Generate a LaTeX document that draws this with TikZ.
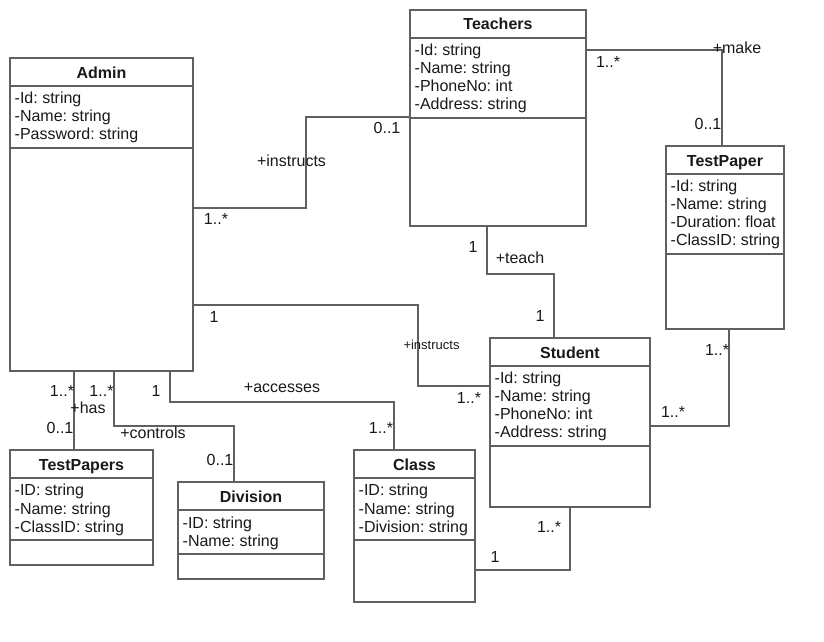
\documentclass[tikz,border=0pt]{standalone}
\usepackage{fontspec}
\setmainfont{Liberation Sans}
\frenchspacing
\definecolor{lc}{RGB}{96,96,96}
\definecolor{tc}{RGB}{25,25,25}
\tikzset{
  ln/.style={draw=lc, line width=1.3pt},
  classbox/.style={draw=lc, line width=1.3pt, rectangle, anchor=north west, inner sep=0pt, outer sep=0pt, fill=white},
  titletext/.style={anchor=base, inner sep=0pt, text=tc, font=\fontsize{16}{18}\selectfont\bfseries},
  attrtext/.style={anchor=north west, inner sep=0pt, align=left, text=tc, font=\fontsize{16}{18}\selectfont},
  lbl/.style={anchor=base, inner sep=0pt, text=tc, font=\fontsize{16}{18}\selectfont},
  slbl/.style={anchor=base, inner sep=0pt, text=tc, font=\fontsize{13}{15}\selectfont}
}
\newcommand\umlbox[8]{%
  \node[classbox, minimum width=#4, minimum height=#5] (#1) at (#2,#3) {};
  \draw[ln] ([yshift=-28pt]#1.north west) -- ([yshift=-28pt]#1.north east);
  \draw[ln] ([yshift=-#8]#1.north west) -- ([yshift=-#8]#1.north east);
  \node[titletext] (#1-t) at ([yshift=-20pt]#1.north) {#6};
  \node[attrtext] (#1-a) at ([xshift=4.5pt,yshift=-34.2pt]#1.north west) {#7};
}
\begin{document}
\begin{tikzpicture}[x=1pt,y=-1pt]
\useasboundingbox[fill=white] (0,0) rectangle (824,642);
\umlbox{Admin}{10}{58}{183pt}{313pt}{Admin}{-Id: string\\-Name: string\\-Password: string}{90pt}
\umlbox{Teachers}{410}{10}{176pt}{216pt}{Teachers}{-Id: string\\-Name: string\\-PhoneNo: int\\-Address: string}{108pt}
\umlbox{TestPaper}{666}{146}{118pt}{183pt}{TestPaper}{-Id: string\\-Name: string\\-Duration: float\\-ClassID: string}{108pt}
\umlbox{Student}{490}{338}{160pt}{169pt}{Student}{-Id: string\\-Name: string\\-PhoneNo: int\\-Address: string}{108pt}
\umlbox{Class}{354}{450}{121pt}{152pt}{Class}{-ID: string\\-Name: string\\-Division: string}{90pt}
\umlbox{TestPapers}{10}{450}{143pt}{115pt}{TestPapers}{-ID: string\\-Name: string\\-ClassID: string}{90pt}
\umlbox{Division}{178}{482}{146pt}{97pt}{Division}{-ID: string\\-Name: string}{72pt}

\draw[ln] (Admin.east |- 0,208) -| (306,117) -- (Teachers.west |- 0,117);
\draw[ln] (Teachers.east |- 0,50) -| (TestPaper.north -| 722,0);
\draw[ln] (Teachers.south -| 487,0) |- (554,274) -- (Student.north -| 554,0);
\draw[ln] (Admin.east |- 0,305) -| (418,386) -- (Student.west |- 0,386);
\draw[ln] (TestPaper.south -| 729,0) |- (Student.east |- 0,426);
\draw[ln] (Student.south -| 570,0) |- (Class.east |- 0,570);
\draw[ln] (Admin.south -| 74,0) -- (TestPapers.north -| 74,0);
\draw[ln] (Admin.south -| 114,0) |- (234,426) -- (Division.north -| 234,0);
\draw[ln] (Admin.south -| 170,0) |- (394,402) -- (Class.north -| 394,0);

% labels
\node[lbl] (l1) at (291.5,166) {+instructs};
\node[lbl] (l2) at (216,224) {1..*};
\node[lbl] (l3) at (387,133) {0..1};
\node[lbl] (l4) at (608,67) {1..*};
\node[lbl] (l5) at (737,54) {+make};
\node[lbl] (l6) at (708,129) {0..1};
\node[lbl] (l7) at (473,252) {1};
\node[lbl] (l8) at (520,263) {+teach};
\node[lbl] (l9) at (540,321) {1};
\node[slbl] (l10) at (431.5,349) {+instructs};
\node[lbl] (l11) at (469,403) {1..*};
\node[lbl] (l12) at (717,355) {1..*};
\node[lbl] (l13) at (673,417) {1..*};
\node[lbl] (l14) at (549,532) {1..*};
\node[lbl] (l15) at (495,562) {1};
\node[lbl] (l16) at (214,322) {1};
\node[lbl] (l17) at (381,433) {1..*};
\node[lbl] (l18) at (62,396) {1..*};
\node[lbl] (l19) at (101.5,396) {1..*};
\node[lbl] (l20) at (156,396) {1};
\node[lbl] (l21) at (282,392) {+accesses};
\node[lbl] (l22) at (88,413) {+has};
\node[lbl] (l23) at (60,433) {0..1};
\node[lbl] (l24) at (153,438) {+controls};
\node[lbl] (l25) at (220,465) {0..1};
\end{tikzpicture}
\end{document}
